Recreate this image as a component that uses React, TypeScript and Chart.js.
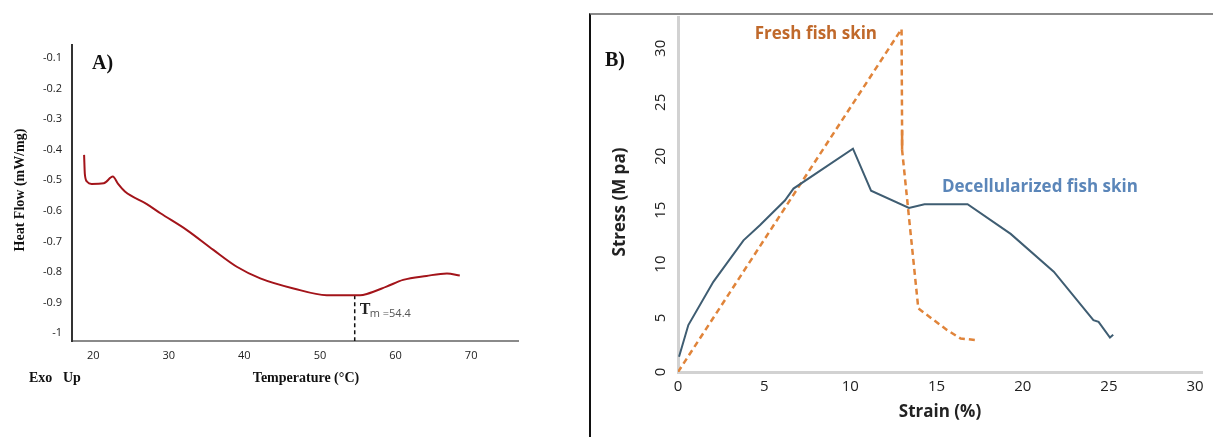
import React, { useEffect, useRef } from "react";
import { Chart, registerables } from "chart.js";
Chart.register(...registerables);

// ---------- Panel A: DSC thermogram ----------
const dscTemp = [18.8, 18.9, 19.2, 19.8, 21.4, 22.6, 23.3, 24.2, 27.1, 28.9, 32.4, 35.9, 39.0, 42.1, 46.5, 50.9, 55.3, 56.2, 58.8, 61.0, 64.1, 66.8, 68.5];
const dscHeatFlow = [-0.417, -0.48, -0.505, -0.512, -0.51, -0.488, -0.512, -0.537, -0.578, -0.608, -0.663, -0.728, -0.783, -0.821, -0.854, -0.876, -0.876, -0.872, -0.848, -0.826, -0.813, -0.805, -0.812];
const tmTemp = 54.6;
const tmHeatFlow = -0.876;
const tmText = "m =54.4";
const tempTicks = [20, 30, 40, 50, 60, 70];
const heatTicks = [-1, -0.9, -0.8, -0.7, -0.6, -0.5, -0.4, -0.3, -0.2, -0.1];
const tempMin = 17.2;
const tempMax = 76.2;
const heatMin = -1.026;
const heatMax = -0.0575;

// ---------- Panel B: stress-strain ----------
const decellStrain = [0.06, 0.6, 2.05, 3.8, 4.75, 6.2, 6.7, 10.15, 11.2, 13.4, 14.3, 16.8, 19.3, 21.8, 24.1, 24.4, 25.06, 25.25];
const decellStress = [1.42, 4.35, 8.36, 12.2, 13.6, 15.9, 17.0, 20.7, 16.8, 15.2, 15.55, 15.55, 12.8, 9.3, 4.8, 4.65, 3.2, 3.45];
const freshStrain = [0, 12.97, 13.0, 13.0, 13.94, 14.6, 15.6, 16.4, 17.3];
const freshStress = [0, 31.8, 22.4, 20.6, 5.9, 5.1, 3.9, 3.1, 2.96];
const freshSolidStrain = [13.0, 13.0];
const freshSolidStress = [22.4, 20.6];
const strainTicks = [0, 5, 10, 15, 20, 25, 30];
const stressTicks = [0, 5, 10, 15, 20, 25, 30];
const strainMax = 30.4;
const stressMax = 33.0;

const zip = (xs: number[], ys: number[]) => xs.map((x, i) => ({ x, y: ys[i] }));

function drawText(
  ctx: CanvasRenderingContext2D,
  text: string,
  x: number,
  y: number,
  font: string,
  color: string,
  align: CanvasTextAlign = "left",
  rotation = 0
) {
  ctx.save();
  ctx.translate(x, y);
  if (rotation) ctx.rotate(rotation);
  ctx.font = font;
  ctx.fillStyle = color;
  ctx.textAlign = align;
  ctx.textBaseline = "middle";
  ctx.fillText(text, 0, 0);
  ctx.restore();
}

const SERIF = '"Liberation Serif", "DejaVu Serif", serif';
const SANS = '"Open Sans", "Liberation Sans", sans-serif';

const annoA = {
  id: "annoA",
  afterDatasetsDraw(chart: any) {
    const { ctx } = chart;
    const xs = chart.scales.x;
    drawText(ctx, "A)", 92, 64, `bold 20px ${SERIF}`, "#111");
    drawText(ctx, "Exo", 29, 378, `bold 14px ${SERIF}`, "#111");
    drawText(ctx, "Up", 63, 378, `bold 14px ${SERIF}`, "#111");
    drawText(ctx, "Temperature (°C)", 306, 378, `bold 14px ${SERIF}`, "#111", "center");
    drawText(ctx, "Heat Flow (mW/mg)", 20, 190, `bold 14px ${SERIF}`, "#111", "center", -Math.PI / 2);
    const px = xs.getPixelForValue(tmTemp);
    drawText(ctx, "T", px + 5, 310, `bold 16px ${SERIF}`, "#222");
    drawText(ctx, tmText, px + 15, 314, `11px ${SANS}`, "#555");
  },
};

const annoB = {
  id: "annoB",
  afterDatasetsDraw(chart: any) {
    const { ctx } = chart;
    const xs = chart.scales.x;
    const ys = chart.scales.y;
    drawText(ctx, "B)", 13, 45, `bold 20px ${SERIF}`, "#111");
    drawText(ctx, "Stress (M pa)", 28, 186, `bold 17px ${SANS}`, "#222", "center", -Math.PI / 2);
    drawText(ctx, "Fresh fish skin", xs.getPixelForValue(8.0), ys.getPixelForValue(31.3), `bold 17px ${SANS}`, "#c0692b", "center");
    drawText(ctx, "Decellularized fish skin", xs.getPixelForValue(21.0), ys.getPixelForValue(17.1), `bold 17px ${SANS}`, "#5b86b9", "center");
  },
};

const zeroPad = (s: any) => {
  s.paddingTop = 0;
  s.paddingBottom = 0;
  s.paddingLeft = 0;
  s.paddingRight = 0;
};

function PanelA() {
  const ref = useRef<HTMLCanvasElement>(null);
  useEffect(() => {
    const chart = new Chart(ref.current!, {
      type: "line",
      data: {
        datasets: [
          {
            data: zip(dscTemp, dscHeatFlow),
            borderColor: "#a3141a",
            borderWidth: 2,
            pointRadius: 0,
            cubicInterpolationMode: "monotone",
          },
          {
            data: zip([tmTemp, tmTemp], [tmHeatFlow, heatMin]),
            borderColor: "#111",
            borderWidth: 1.5,
            borderDash: [4, 3],
            pointRadius: 0,
          },
        ],
      },
      options: {
        animation: false,
        responsive: false,
        devicePixelRatio: 1,
        layout: { padding: { left: 0, top: 45, right: 67, bottom: 0 } },
        plugins: { legend: { display: false }, tooltip: { enabled: false } },
        scales: {
          x: {
            type: "linear",
            min: tempMin,
            max: tempMax,
            afterBuildTicks: (s: any) => {
              s.ticks = tempTicks.map((v) => ({ value: v }));
            },
            afterFit: (s: any) => {
              s.height = 96;
              zeroPad(s);
            },
            grid: { display: false, drawTicks: false },
            border: { display: true, color: "#8a8a8a", width: 2 },
            ticks: { padding: 8, color: "#222", font: { family: SANS, size: 11 } },
          },
          y: {
            type: "linear",
            min: heatMin,
            max: heatMax,
            afterBuildTicks: (s: any) => {
              s.ticks = heatTicks.map((v) => ({ value: v }));
            },
            afterFit: (s: any) => {
              s.width = 72;
              zeroPad(s);
            },
            grid: { display: false, drawTicks: false },
            border: { display: true, color: "#333", width: 2 },
            ticks: {
              padding: 10,
              color: "#222",
              font: { family: SANS, size: 11 },
              callback: (v: any) => String(v),
            },
          },
        },
      },
      plugins: [annoA],
    } as any);
    return () => chart.destroy();
  }, []);
  return <canvas ref={ref} width={585} height={437} style={{ position: "absolute", left: 0, top: 0 }} />;
}

function PanelB() {
  const ref = useRef<HTMLCanvasElement>(null);
  useEffect(() => {
    const chart = new Chart(ref.current!, {
      type: "line",
      data: {
        datasets: [
          {
            data: zip(decellStrain, decellStress),
            borderColor: "#3f5d72",
            borderWidth: 2,
            pointRadius: 0,
          },
          {
            data: zip(freshStrain, freshStress),
            borderColor: "#e0843a",
            borderWidth: 2.5,
            borderDash: [6, 4],
            pointRadius: 0,
          },
          {
            data: zip(freshSolidStrain, freshSolidStress),
            borderColor: "#e0843a",
            borderWidth: 2.5,
            pointRadius: 0,
          },
        ],
      },
      options: {
        animation: false,
        responsive: false,
        devicePixelRatio: 1,
        layout: { padding: { left: 0, top: 0, right: 11, bottom: 0 } },
        plugins: { legend: { display: false }, tooltip: { enabled: false } },
        scales: {
          x: {
            type: "linear",
            min: 0,
            max: strainMax,
            afterBuildTicks: (s: any) => {
              s.ticks = strainTicks.map((v) => ({ value: v }));
            },
            afterFit: (s: any) => {
              s.height = 65;
              zeroPad(s);
            },
            grid: { display: false, drawTicks: false },
            border: { display: true, color: "#d2d2d2", width: 3 },
            ticks: { padding: 6, color: "#222", font: { family: SANS, size: 15 } },
            title: {
              display: true,
              text: "Strain (%)",
              color: "#222",
              font: { family: SANS, size: 17, weight: "bold" },
              padding: { top: 0, bottom: 15 },
            },
          },
          y: {
            type: "linear",
            min: 0,
            max: stressMax,
            afterBuildTicks: (s: any) => {
              s.ticks = stressTicks.map((v) => ({ value: v }));
            },
            afterFit: (s: any) => {
              s.width = 86;
              zeroPad(s);
            },
            grid: { display: false, drawTicks: false },
            border: { display: true, color: "#d2d2d2", width: 3 },
            ticks: {
              padding: 9,
              minRotation: 90,
              maxRotation: 90,
              crossAlign: "center",
              color: "#222",
              font: { family: SANS, size: 15 },
            },
          },
        },
      },
      plugins: [annoB],
    } as any);
    return () => chart.destroy();
  }, []);
  return <canvas ref={ref} width={621} height={421} style={{ position: "absolute", left: 592, top: 16 }} />;
}

export default function App() {
  return (
    <div style={{ position: "fixed", left: 0, top: 0, width: 1213, height: 437, background: "#fff", overflow: "hidden" }}>
      <PanelA />
      <div
        style={{
          position: "absolute",
          left: 589,
          top: 13,
          width: 624,
          height: 424,
          boxSizing: "border-box",
          borderTop: "2px solid #8a8a8a",
          borderLeft: "2px solid #111",
        }}
      />
      <PanelB />
    </div>
  );
}
